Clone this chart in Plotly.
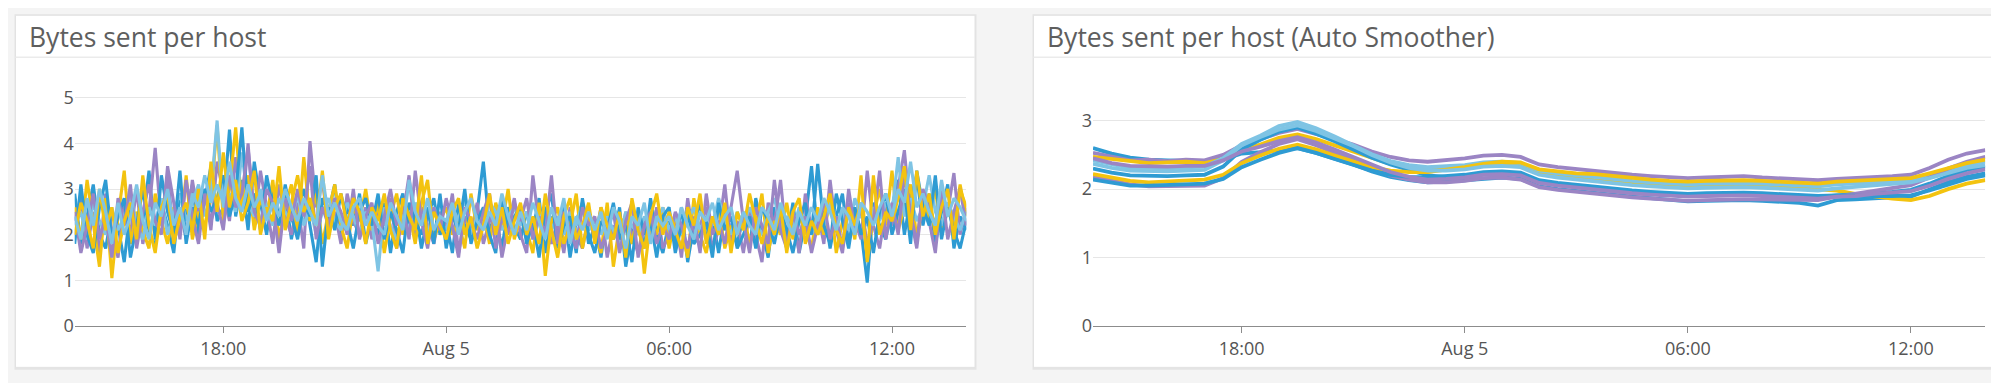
import pandas as pd
import plotly.graph_objects as go

W, H = 1999, 383

# ---------------- data ----------------
times_left = pd.date_range("2017-08-04 14:00", "2017-08-05 14:00", freq="10min")
times_right = pd.date_range("2017-08-04 14:00", "2017-08-05 14:00", freq="30min")

tick_vals = ["2017-08-04 18:00", "2017-08-05 00:00", "2017-08-05 06:00", "2017-08-05 12:00"]
tick_text = ["18:00", "Aug 5", "06:00", "12:00"]

raw_a = [2.9, 1.8, 2.4, 3.1, 2.0, 1.7, 2.5, 2.2, 1.4, 2.6, 1.9, 2.3,
         3.4, 1.9, 2.7, 2.2, 1.6, 2.9, 2.4, 3.1, 2.0, 2.8, 3.5, 2.3,
         2.6, 4.3, 2.4, 3.2, 2.1, 3.6, 2.7, 2.0, 3.0, 2.4, 2.9, 1.9,
         2.6, 3.0, 2.2, 1.4, 2.8, 2.5, 3.1, 1.9, 2.6, 2.2, 2.9, 1.8,
         2.4, 2.0, 2.7, 1.6, 2.5, 2.9, 2.1, 2.6, 1.7, 2.4, 2.8, 2.0,
         2.3, 1.6, 2.7, 2.2, 1.9, 2.5, 3.6, 2.1, 2.4, 1.7, 2.6, 2.2,
         1.9, 2.5, 2.1, 2.8, 1.6, 2.4, 2.0, 2.6, 1.5, 2.3, 2.7, 1.8,
         2.2, 1.5, 2.5, 1.9, 2.6, 1.3, 2.1, 2.4, 1.7, 2.8, 2.0, 1.6,
         2.3, 1.8, 2.6, 1.4, 2.2, 2.7, 1.9, 2.4, 1.6, 2.5, 2.1, 1.8,
         2.4, 1.7, 2.8, 2.1, 1.5, 2.6, 2.2, 1.9, 2.7, 1.6, 2.3, 3.5,
         2.0, 2.6, 1.7, 2.4, 2.9, 1.8, 2.5, 2.1, 0.95, 2.7, 2.2, 1.9,
         2.6, 3.2, 2.0, 2.8, 3.3, 2.2, 2.9, 1.8, 2.5, 3.1, 1.7, 2.4,
         2.1]
raw_b = [2.3, 2.8, 1.7, 2.5, 1.6, 2.9, 2.1, 1.5, 2.7, 2.0, 3.0, 1.8,
         2.5, 3.9, 2.2, 3.3, 2.0, 2.6, 1.9, 3.2, 2.4, 3.0, 2.1, 3.6,
         2.9, 2.3, 3.7, 2.5, 4.0, 2.2, 3.4, 2.6, 1.8, 3.1, 2.4, 2.0,
         2.7, 1.7, 4.05, 2.6, 3.2, 2.1, 2.5, 1.8, 2.9, 2.3, 2.0, 2.6,
         1.9, 2.5, 2.2, 2.8, 1.7, 2.4, 3.3, 2.0, 2.6, 2.2, 1.8, 2.5,
         2.1, 2.9, 1.6, 2.4, 2.0, 2.7, 1.8, 2.3, 2.6, 1.5, 2.2, 2.8,
         2.0, 1.6, 3.3, 2.2, 2.5, 1.8, 2.3, 1.6, 2.6, 2.0, 1.7, 2.4,
         1.9, 2.6, 1.5, 2.2, 1.8, 2.5, 2.0, 1.6, 2.3, 1.9, 2.6, 1.7,
         2.0, 2.4, 1.5, 2.8, 1.9, 2.2, 2.6, 1.7, 2.1, 3.1, 1.8, 2.3,
         1.6, 2.5, 2.0, 1.4, 2.7, 2.2, 3.2, 1.8, 2.4, 1.6, 2.9, 2.1,
         2.5, 1.8, 3.2, 2.1, 1.6, 2.7, 2.3, 1.9, 3.4, 2.2, 1.7, 2.6,
         2.2, 3.0, 3.85, 2.4, 1.7, 2.8, 2.3, 1.6, 2.9, 2.5, 3.35, 2.0,
         2.6]
raw_c = [2.6, 1.9, 3.2, 2.2, 1.3, 2.8, 1.05, 2.4, 3.4, 1.8, 2.5, 2.1,
         1.7, 2.9, 2.3, 1.8, 2.6, 2.0, 3.3, 1.9, 2.5, 2.2, 2.8, 4.4,
         2.3, 3.0, 4.35, 2.6, 3.3, 2.1, 2.8, 2.4, 3.2, 1.9, 2.6, 3.1,
         2.0, 3.7, 2.3, 2.9, 1.8, 2.5, 3.1, 2.2, 1.7, 2.6, 2.3, 3.0,
         2.1, 2.7, 1.6, 2.4, 2.9, 2.0, 2.5, 1.8, 2.7, 3.2, 1.9, 2.3,
         2.6, 2.0, 2.3, 1.7, 2.9, 2.1, 2.5, 1.8, 2.7, 2.2, 3.0, 1.9,
         2.4, 2.1, 1.6, 2.7, 1.1, 2.3, 2.6, 1.8, 2.2, 2.9, 1.7, 2.4,
         2.0, 1.6, 2.7, 1.3, 2.2, 2.4, 1.8, 2.5, 1.15, 2.3, 2.0, 2.6,
         1.7, 2.4, 2.1, 1.5, 2.8, 2.0, 1.6, 2.3, 2.6, 1.7, 2.2, 2.0,
         2.5, 1.8, 2.2, 2.9, 1.6, 2.3, 2.0, 2.7, 1.9, 2.4, 2.1, 1.7,
         2.6, 2.0, 2.8, 1.6, 2.3, 2.5, 1.9, 3.3, 1.4, 2.4, 3.0, 2.2,
         3.4, 2.1, 2.6, 3.1, 1.9, 2.8, 2.3, 3.0, 2.0, 2.7, 2.2, 3.1,
         2.4]
raw_d = [2.2, 2.5, 1.9, 2.7, 2.3, 2.0, 2.6, 2.1, 2.4, 2.9, 2.2, 1.9,
         2.6, 2.2, 2.8, 2.0, 2.5, 2.9, 2.3, 2.7, 3.1, 2.4, 2.9, 4.5,
         2.6, 2.9, 2.5, 3.8, 2.7, 2.4, 3.0, 2.6, 2.2, 2.8, 2.5, 2.3,
         2.9, 2.2, 2.6, 2.0, 2.5, 2.8, 2.3, 2.1, 2.7, 2.4, 2.0, 2.5,
         2.3, 1.2, 2.6, 2.2, 1.9, 2.5, 2.1, 2.7, 2.4, 2.0, 2.6, 2.3,
         2.1, 2.6, 2.3, 2.8, 2.0, 2.4, 2.2, 2.7, 2.5, 2.1, 2.4, 2.6,
         2.2, 2.5, 1.9, 2.3, 2.6, 2.1, 2.4, 2.0, 2.5, 2.2, 2.7, 2.1,
         2.3, 2.0, 2.4, 2.1, 1.8, 2.5, 2.2, 2.0, 2.4, 2.1, 2.3, 2.6,
         2.1, 2.4, 2.0, 2.3, 2.6, 2.1, 2.4, 2.2, 2.8, 2.3, 2.0, 2.5,
         2.2, 2.6, 2.3, 2.0, 2.5, 2.8, 2.2, 2.4, 2.1, 2.6, 2.3, 2.0,
         2.4, 2.2, 2.7, 2.3, 2.5, 2.1, 2.8, 2.4, 2.2, 2.6, 2.3, 2.7,
         2.5, 3.7, 2.4, 2.8, 2.3, 2.6, 3.3, 2.5, 2.2, 2.7, 2.4, 2.1,
         2.5]
raw_e = [1.8, 3.1, 2.0, 1.6, 2.6, 3.2, 1.9, 2.4, 2.8, 1.5, 2.2, 3.0,
         2.1, 1.7, 3.3, 2.5, 2.0, 3.4, 1.8, 2.6, 2.2, 3.0, 2.5, 2.8,
         3.3, 2.4, 2.9, 4.35, 2.5, 2.9, 2.1, 3.3, 2.6, 2.2, 3.1, 2.4,
         1.9, 2.7, 2.4, 3.3, 1.3, 2.6, 2.1, 2.9, 2.3, 1.7, 2.5, 2.8,
         2.2, 2.9, 1.9, 2.5, 2.1, 1.6, 2.7, 2.3, 2.0, 2.6, 1.8, 2.9,
         1.7, 2.4, 2.1, 3.0, 1.8, 2.3, 2.6, 2.0, 1.6, 2.8, 2.1, 2.4,
         2.6, 1.8, 2.3, 1.5, 2.5, 2.9, 1.7, 2.2, 2.4, 1.6, 2.8, 2.0,
         1.6, 2.3, 2.1, 2.7, 1.9, 2.2, 1.4, 2.6, 2.0, 2.3, 1.5, 2.4,
         2.6, 1.6, 2.2, 2.5, 1.8, 2.0, 2.3, 1.5, 2.7, 2.1, 2.4, 1.7,
         2.0, 2.4, 1.7, 2.6, 2.3, 1.8, 2.5, 2.1, 1.6, 2.3, 2.7, 2.0,
         3.55, 2.2, 1.8, 2.9, 2.3, 1.7, 2.6, 2.0, 2.4, 1.6, 2.5, 2.9,
         2.0, 2.5, 3.0, 1.8, 3.4, 2.6, 2.2, 3.3, 1.9, 2.6, 2.1, 1.7,
         2.3]
raw_f = [2.5, 1.6, 2.2, 2.9, 1.9, 2.4, 1.5, 2.8, 2.2, 3.1, 1.7, 2.5,
         3.1, 2.3, 2.0, 3.5, 2.7, 1.9, 3.2, 2.4, 1.8, 2.9, 2.3, 2.7,
         2.1, 3.3, 2.6, 2.9, 3.9, 2.5, 2.2, 3.0, 2.7, 1.6, 2.8, 2.3,
         3.0, 2.4, 3.5, 1.9, 2.6, 2.2, 2.8, 2.5, 2.0, 3.0, 1.9, 2.4,
         2.7, 1.8, 2.4, 3.0, 2.2, 2.6, 1.9, 3.4, 2.3, 1.7, 2.6, 2.1,
         2.8, 2.2, 1.5, 2.6, 2.3, 1.9, 2.5, 2.9, 1.7, 2.4, 2.0, 2.7,
         2.3, 2.8, 1.9, 2.4, 2.0, 3.3, 1.8, 2.5, 2.1, 1.7, 2.6, 2.2,
         2.4, 1.7, 2.1, 2.5, 1.6, 2.3, 2.7, 1.5, 2.2, 2.5, 1.8, 2.2,
         1.9, 2.5, 2.2, 1.7, 2.4, 1.6, 2.9, 2.0, 2.3, 1.8, 2.6, 3.4,
         2.3, 1.6, 2.6, 2.2, 1.8, 3.2, 2.1, 1.7, 2.5, 2.0, 2.4, 1.6,
         2.2, 2.7, 1.9, 2.4, 1.7, 3.0, 2.1, 2.6, 1.8, 2.3, 3.4, 1.9,
         2.7, 2.0, 3.3, 2.5, 1.8, 3.0, 2.6, 2.2, 3.1, 1.9, 2.5, 3.0,
         2.2]
raw_g = [2.0, 2.7, 2.3, 1.7, 3.0, 2.1, 2.6, 1.6, 2.3, 2.7, 1.9, 3.3,
         2.2, 1.6, 2.6, 2.9, 1.8, 2.4, 2.7, 2.1, 3.0, 1.9, 3.6, 2.5,
         3.8, 2.6, 3.2, 2.3, 2.7, 3.4, 2.0, 2.6, 2.3, 3.5, 2.1, 2.7,
         3.3, 2.5, 2.8, 2.2, 3.4, 1.9, 2.6, 2.9, 2.2, 2.8, 2.5, 1.8,
         2.6, 2.3, 2.9, 2.1, 1.7, 2.8, 2.4, 2.1, 3.3, 1.8, 2.5, 2.2,
         1.9, 2.5, 2.8, 2.0, 2.4, 1.7, 2.2, 2.9, 2.0, 2.6, 1.8, 2.3,
         2.7, 2.0, 2.4, 1.8, 2.9, 2.1, 1.5, 2.4, 2.8, 1.9, 2.2, 2.7,
         1.8, 2.6, 2.2, 1.9, 2.5, 1.5, 2.8, 2.1, 1.7, 2.4, 2.9, 2.0,
         2.5, 2.1, 1.7, 2.6, 2.2, 2.9, 1.8, 2.4, 2.0, 2.7, 1.6, 2.5,
         2.1, 2.9, 2.3, 1.8, 2.4, 2.0, 2.6, 1.6, 2.5, 2.8, 1.8, 2.3,
         2.0, 2.4, 2.9, 2.1, 1.8, 2.6, 2.2, 2.7, 1.5, 3.3, 2.0, 2.5,
         2.3, 2.8, 3.5, 2.1, 3.4, 2.4, 2.9, 2.0, 2.6, 3.0, 1.9, 3.0,
         2.6]
raw_h = [2.4, 1.9, 2.8, 2.2, 3.0, 2.5, 1.8, 2.7, 2.0, 2.4, 3.1, 2.3,
         1.9, 2.7, 2.4, 3.0, 2.2, 2.6, 2.0, 2.9, 2.6, 3.3, 2.7, 3.1,
         2.7, 3.6, 2.8, 2.5, 3.1, 2.6, 2.9, 2.3, 2.7, 2.4, 3.0, 2.6,
         2.3, 2.8, 2.5, 2.2, 3.3, 2.4, 2.7, 2.3, 2.1, 2.6, 2.8, 2.2,
         2.5, 2.2, 2.0, 2.7, 2.4, 2.1, 3.2, 2.5, 2.2, 2.8, 2.1, 2.4,
         2.3, 2.7, 2.0, 2.5, 2.8, 2.3, 2.1, 2.5, 2.2, 2.9, 2.4, 2.0,
         2.5, 2.1, 2.7, 2.3, 1.9, 2.6, 2.2, 2.8, 1.8, 2.4, 2.1, 2.5,
         2.1, 2.5, 1.9, 2.6, 2.3, 1.7, 2.4, 2.2, 2.7, 1.8, 2.4, 2.2,
         2.4, 2.0, 2.6, 2.2, 1.9, 2.5, 2.3, 2.7, 2.1, 2.4, 2.6, 2.0,
         2.5, 2.2, 2.0, 2.6, 2.4, 2.1, 2.7, 2.3, 2.0, 2.5, 2.2, 2.6,
         2.3, 2.8, 2.5, 2.1, 2.6, 2.4, 2.0, 2.7, 2.5, 2.2, 2.6, 2.9,
         2.4, 3.0, 2.7, 3.6, 2.6, 2.9, 2.5, 2.2, 3.2, 2.4, 2.8, 2.6,
         2.3]

sm_1 = [2.60, 2.52, 2.46, 2.43, 2.42, 2.42, 2.41, 2.43, 2.52, 2.54, 2.57, 2.60, 2.53,
        2.45, 2.36, 2.26, 2.18, 2.13, 2.10, 2.11, 2.13, 2.16, 2.17, 2.15, 2.04, 2.00,
        1.97, 1.95, 1.92, 1.89, 1.87, 1.85, 1.82, 1.83, 1.84, 1.84, 1.83, 1.82, 1.80,
        1.76, 1.84, 1.85, 1.87, 1.88, 1.89, 2.00, 2.10, 2.18, 2.23]
sm_2 = [2.53, 2.48, 2.42, 2.43, 2.41, 2.43, 2.42, 2.50, 2.64, 2.73, 2.82, 2.88, 2.81,
        2.73, 2.65, 2.55, 2.47, 2.42, 2.40, 2.42, 2.45, 2.49, 2.50, 2.47, 2.36, 2.32,
        2.29, 2.27, 2.23, 2.21, 2.19, 2.17, 2.16, 2.17, 2.18, 2.19, 2.17, 2.16, 2.14,
        2.13, 2.15, 2.16, 2.18, 2.19, 2.21, 2.31, 2.43, 2.52, 2.57]
sm_3 = [2.47, 2.44, 2.40, 2.38, 2.39, 2.40, 2.38, 2.44, 2.57, 2.65, 2.75, 2.80, 2.73,
        2.64, 2.55, 2.45, 2.37, 2.32, 2.29, 2.30, 2.32, 2.36, 2.37, 2.35, 2.24, 2.20,
        2.17, 2.15, 2.12, 2.09, 2.07, 2.05, 2.04, 2.05, 2.06, 2.06, 2.05, 2.03, 2.01,
        1.99, 1.98, 1.93, 1.89, 1.86, 1.84, 1.90, 2.00, 2.08, 2.13]
sm_4 = [2.42, 2.36, 2.31, 2.31, 2.30, 2.32, 2.33, 2.45, 2.66, 2.78, 2.92, 2.98, 2.89,
        2.77, 2.64, 2.51, 2.41, 2.35, 2.32, 2.33, 2.35, 2.39, 2.40, 2.38, 2.27, 2.23,
        2.20, 2.18, 2.15, 2.12, 2.10, 2.08, 2.07, 2.08, 2.09, 2.09, 2.08, 2.07, 2.05,
        2.04, 2.07, 2.08, 2.10, 2.11, 2.12, 2.19, 2.28, 2.35, 2.40]
sm_5 = [2.30, 2.24, 2.20, 2.19, 2.19, 2.20, 2.21, 2.33, 2.58, 2.72, 2.84, 2.90, 2.81,
        2.70, 2.58, 2.46, 2.36, 2.28, 2.20, 2.18, 2.19, 2.23, 2.24, 2.22, 2.11, 2.07,
        2.04, 2.02, 1.99, 1.96, 1.94, 1.92, 1.91, 1.92, 1.93, 1.93, 1.92, 1.91, 1.89,
        1.88, 1.91, 1.92, 1.94, 1.96, 1.99, 2.08, 2.19, 2.28, 2.33]
sm_6 = [2.18, 2.12, 2.07, 2.04, 2.04, 2.05, 2.05, 2.16, 2.40, 2.54, 2.66, 2.73, 2.64,
        2.53, 2.42, 2.30, 2.20, 2.14, 2.10, 2.10, 2.12, 2.16, 2.17, 2.14, 2.03, 1.99,
        1.96, 1.94, 1.91, 1.88, 1.86, 1.84, 1.83, 1.84, 1.85, 1.85, 1.85, 1.85, 1.84,
        1.84, 1.89, 1.93, 1.98, 2.02, 2.06, 2.17, 2.30, 2.40, 2.47]
sm_7 = [2.22, 2.17, 2.12, 2.10, 2.11, 2.13, 2.14, 2.21, 2.38, 2.49, 2.59, 2.65, 2.58,
        2.49, 2.40, 2.32, 2.27, 2.25, 2.25, 2.28, 2.32, 2.37, 2.40, 2.39, 2.29, 2.26,
        2.23, 2.22, 2.19, 2.16, 2.14, 2.12, 2.11, 2.12, 2.13, 2.13, 2.12, 2.11, 2.09,
        2.08, 2.11, 2.12, 2.14, 2.15, 2.16, 2.23, 2.31, 2.38, 2.43]
sm_8 = [2.37, 2.31, 2.27, 2.26, 2.26, 2.27, 2.28, 2.42, 2.64, 2.76, 2.87, 2.93, 2.85,
        2.74, 2.63, 2.50, 2.39, 2.31, 2.27, 2.27, 2.29, 2.33, 2.34, 2.32, 2.21, 2.17,
        2.14, 2.12, 2.09, 2.06, 2.04, 2.02, 2.01, 2.02, 2.03, 2.03, 2.02, 2.01, 1.99,
        1.98, 2.01, 2.03, 2.06, 2.08, 2.10, 2.16, 2.24, 2.31, 2.35]
sm_9 = [2.14, 2.09, 2.05, 2.05, 2.06, 2.07, 2.08, 2.15, 2.32, 2.43, 2.53, 2.60, 2.53,
        2.44, 2.35, 2.27, 2.21, 2.18, 2.17, 2.19, 2.21, 2.25, 2.26, 2.24, 2.13, 2.09,
        2.06, 2.04, 2.01, 1.98, 1.96, 1.94, 1.93, 1.94, 1.95, 1.95, 1.94, 1.93, 1.91,
        1.90, 1.91, 1.90, 1.90, 1.90, 1.91, 1.98, 2.07, 2.15, 2.20]
sm_10 = [2.45, 2.38, 2.34, 2.33, 2.33, 2.34, 2.34, 2.42, 2.55, 2.62, 2.70, 2.76, 2.68,
         2.58, 2.47, 2.35, 2.25, 2.18, 2.14, 2.15, 2.17, 2.21, 2.22, 2.20, 2.09, 2.05,
         2.02, 2.00, 1.97, 1.94, 1.92, 1.90, 1.89, 1.90, 1.91, 1.91, 1.90, 1.89, 1.87,
         1.86, 1.89, 1.90, 1.93, 1.95, 1.97, 2.05, 2.15, 2.23, 2.29]

left_series = [raw_a, raw_b, raw_c, raw_d, raw_e, raw_f, raw_g, raw_h]
right_series = [sm_1, sm_2, sm_3, sm_4, sm_5, sm_6, sm_7, sm_8, sm_9, sm_10]

palette = ["#2e9bd3", "#9b85c4", "#f3c30f", "#7fc4e4"]

# ---------------- geometry (pixels) ----------------
def px(x):
    return x / W

def py(y):
    return 1 - y / H

plot_top, plot_bot = 70, 327.5
left_x = (66.7, 958.3)
right_x = (1085.0, 1977.3)
left_card = (7.5, 967.0)
right_card = (1025.5, 1986.5)
card_top, card_bot, header_y = 7.5, 370.0, 50.7

fig = go.Figure()

for i, s in enumerate(left_series):
    fig.add_trace(go.Scatter(x=times_left, y=s, mode="lines", xaxis="x", yaxis="y",
                             line=dict(color=palette[i % 4], width=3.1),
                             showlegend=False, hoverinfo="skip"))
for i, s in enumerate(right_series):
    fig.add_trace(go.Scatter(x=times_right, y=s, mode="lines", xaxis="x2", yaxis="y2",
                             line=dict(color=palette[i % 4], width=3.8),
                             showlegend=False, hoverinfo="skip"))

font_fam = "Open Sans, DejaVu Sans, sans-serif"
xcommon = dict(type="date", range=["2017-08-04 14:00", "2017-08-05 14:00"],
               tickvals=tick_vals, ticktext=tick_text, showgrid=False,
               showline=True, linecolor="#8c8c8c", linewidth=1,
               ticks="outside", ticklen=6, tickcolor="#8c8c8c",
               tickfont=dict(family=font_fam, size=18, color="#555555"),
               zeroline=False, fixedrange=True)
ycommon = dict(showgrid=True, gridcolor="#e6e6e6", gridwidth=1, zeroline=False,
               showline=False, ticks="", tickfont=dict(family=font_fam, size=18, color="#555555"),
               fixedrange=True)

yl_max = 5 * (plot_bot - plot_top) / (plot_bot - 92.3)
yr_max = 3 * (plot_bot - plot_top) / (plot_bot - 116.0)

shapes = []
for (cx0, cx1) in (left_card, right_card):
    # shadow
    shapes.append(dict(type="rect", xref="paper", yref="paper", layer="below",
                       x0=px(cx0 - 1), x1=px(cx1 + 1.5), y0=py(card_bot + 2.5), y1=py(card_top - 1),
                       fillcolor="#e4e4e4", line=dict(width=0)))
    shapes.append(dict(type="rect", xref="paper", yref="paper", layer="below",
                       x0=px(cx0), x1=px(cx1), y0=py(card_bot), y1=py(card_top),
                       fillcolor="#ffffff", line=dict(color="#e2e2e2", width=1)))
    shapes.append(dict(type="line", xref="paper", yref="paper", layer="below",
                       x0=px(cx0), x1=px(cx1), y0=py(header_y), y1=py(header_y),
                       line=dict(color="#ebebeb", width=1.5)))

annotations = [
    dict(text="Bytes sent per host", xref="paper", yref="paper", x=px(19), y=py(30),
         xanchor="left", yanchor="middle", showarrow=False,
         font=dict(family=font_fam, size=26.5, color="#5e5e5e")),
    dict(text="Bytes sent per host (Auto Smoother)", xref="paper", yref="paper", x=px(1037), y=py(30),
         xanchor="left", yanchor="middle", showarrow=False,
         font=dict(family=font_fam, size=26.5, color="#5e5e5e")),
]

fig.update_layout(
    width=W, height=H, margin=dict(l=0, r=0, t=0, b=0),
    paper_bgcolor="#f4f4f4", plot_bgcolor="rgba(0,0,0,0)",
    xaxis=dict(domain=[px(left_x[0]), px(left_x[1])], anchor="y", **xcommon),
    yaxis=dict(domain=[py(plot_bot), py(plot_top)], anchor="x", range=[0, yl_max],
               tickvals=[0, 1, 2, 3, 4, 5], **ycommon),
    xaxis2=dict(domain=[px(right_x[0]), px(right_x[1])], anchor="y2", **xcommon),
    yaxis2=dict(domain=[py(plot_bot), py(plot_top)], anchor="x2", range=[0, yr_max],
                tickvals=[0, 1, 2, 3], **ycommon),
    shapes=shapes, annotations=annotations,
)

fig.write_html("out.html")
